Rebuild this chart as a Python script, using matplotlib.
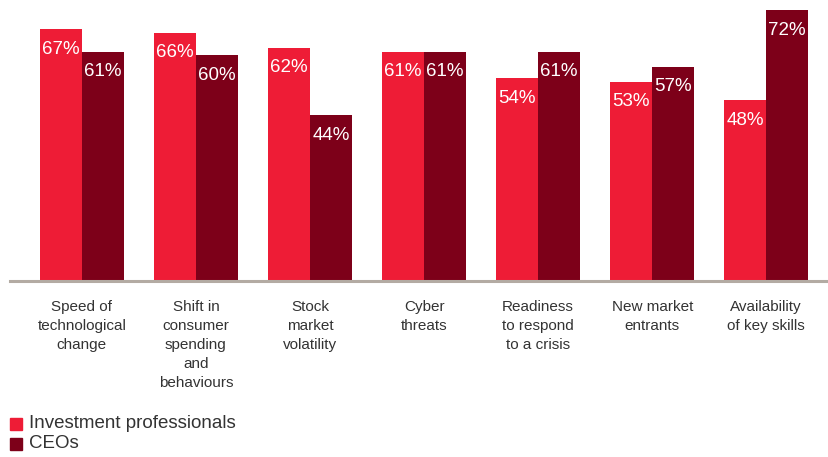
import matplotlib.pyplot as plt
import numpy as np
from matplotlib.patches import Rectangle

plt.rcParams["font.family"] = ["Liberation Sans", "DejaVu Sans"]

categories = [
    "Speed of\ntechnological\nchange",
    "Shift in\nconsumer\nspending\nand\nbehaviours",
    "Stock\nmarket\nvolatility",
    "Cyber\nthreats",
    "Readiness\nto respond\nto a crisis",
    "New market\nentrants",
    "Availability\nof key skills",
]
investment_pros = [67, 66, 62, 61, 54, 53, 48]
ceos = [61, 60, 44, 61, 61, 57, 72]
series_names = ["Investment professionals", "CEOs"]

RED = "#EE1C36"
MAROON = "#7D0019"
TEXT = "#333333"

W, H = 829, 457
fig = plt.figure(figsize=(W / 100, H / 100), dpi=100)
ax = fig.add_axes([10 / W, (H - 281) / H, 819 / W, 281 / H])

x = np.arange(len(categories))
bw = 0.368
b1 = ax.bar(x - bw / 2, investment_pros, bw, color=RED, linewidth=0)
b2 = ax.bar(x + bw / 2, ceos, bw, color=MAROON, linewidth=0)

ax.set_xlim(-0.63, 6.55)
ax.set_ylim(0, 74.7)
ax.axis("off")
ax.axhline(0, color="#b3aba3", linewidth=2.2, zorder=3, clip_on=False)

# value labels sit just inside the top of each bar
for bars in (b1, b2):
    for b in bars:
        v = b.get_height()
        ax.annotate(f"{v:.0f}%", (b.get_x() + b.get_width() / 2, v),
                    xytext=(0, -14.5), textcoords="offset points",
                    ha="center", va="center", color="white", fontsize=13.5)

for xi, lab in zip(x, categories):
    ax.annotate(lab, (xi, 0), xytext=(0, -13.5), textcoords="offset points",
                ha="center", va="top", color=TEXT, fontsize=11,
                linespacing=1.45, annotation_clip=False)

# legend as plain squares and text
for i, (name, col) in enumerate(zip(series_names, [RED, MAROON])):
    yc = 424 + i * 20
    fig.patches.append(Rectangle((10 / W, 1 - (yc + 6) / H), 12 / W, 12 / H,
                                 transform=fig.transFigure, color=col))
    fig.text(29 / W, 1 - yc / H, name, ha="left", va="center",
             color=TEXT, fontsize=13.5)

fig.savefig("out.png", dpi=100, facecolor="white")
